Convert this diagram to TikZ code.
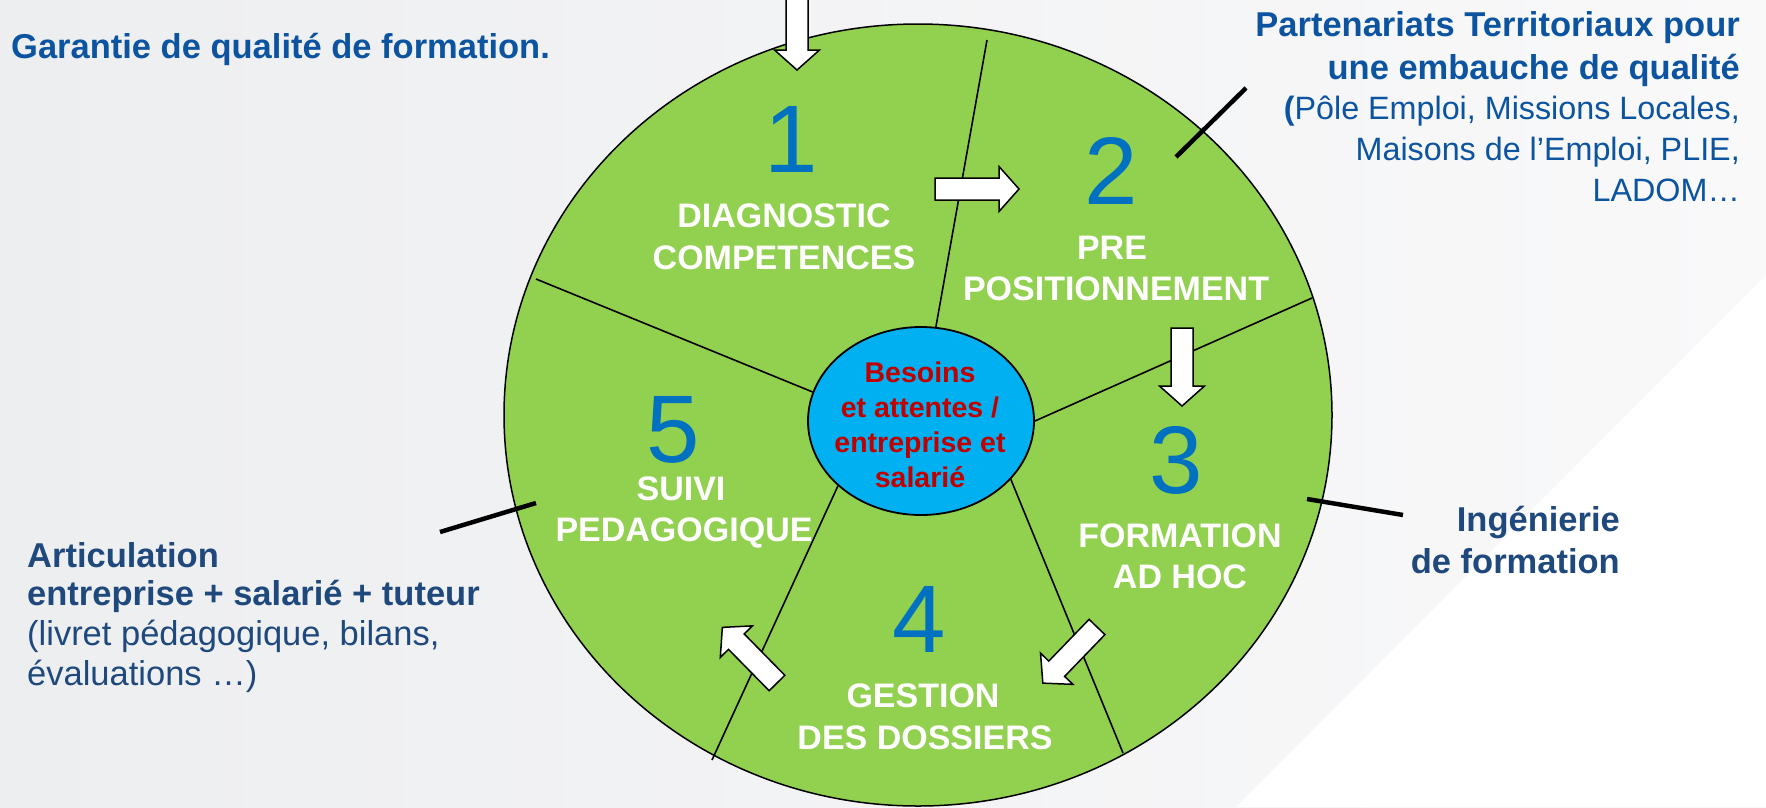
\documentclass[tikz,border=0pt]{standalone}
\usepackage{fontspec}
\setmainfont{Liberation Sans}
\usetikzlibrary{shapes.geometric,calc}
\definecolor{wheelgreen}{HTML}{92D050}
\definecolor{hubblue}{HTML}{00B0F0}
\definecolor{digitblue}{HTML}{0070C0}
\definecolor{hubred}{HTML}{C00000}
\definecolor{brightblue}{RGB}{12,84,160}
\definecolor{navy}{RGB}{31,73,125}
\definecolor{bgL}{RGB}{237,238,240}
\definecolor{bgR}{RGB}{249,249,250}
\newcommand\blockarrow[3]{%
  \begin{scope}[shift={#1}, rotate=#2]
    \draw[blockarr] (0,-11) -- ({#3-20},-11) -- ({#3-20},-22.5) -- (#3,0)
      -- ({#3-20},22.5) -- ({#3-20},11) -- (0,11) -- cycle;
  \end{scope}}
\begin{document}
\begin{tikzpicture}[x=1pt,y=-1pt,
  blockarr/.style={draw=black, fill=white, line width=1.5pt, line join=miter},
  divider/.style={draw=black, line width=1.6pt},
  tickline/.style={draw=black, line width=4.5pt},
  hdr/.style={font=\fontsize{34.5}{41}\selectfont\bfseries, inner sep=0pt},
  body/.style={font=\fontsize{34.5}{41}\selectfont, inner sep=0pt},
  bodysm/.style={font=\fontsize{32.3}{40}\selectfont, inner sep=0pt},
  wlabel/.style={font=\fontsize{34}{41}\selectfont\bfseries, text=white, inner sep=0pt, anchor=base},
  digit/.style={font=\fontsize{96}{96}\selectfont, text=digitblue, inner sep=0pt, text depth=0pt, anchor=base},
  hubtxt/.style={font=\fontsize{28.5}{35}\selectfont\bfseries, text=hubred, inner sep=0pt, anchor=base}]
\useasboundingbox (0,0) rectangle (1766,807);
\clip (0,0) rectangle (1766,807);
% background
\shade[left color=bgL, right color=bgR] (0,0) rectangle (1766,807);
\fill[white] (1236,807) -- (1766,275) -- (1766,807) -- cycle;
% wheel
\node[ellipse, draw=black, line width=1.5pt, fill=wheelgreen, minimum width=828pt, minimum height=782pt, inner sep=0pt] (wheel) at (918,415) {};
% outer ends of dividers
\coordinate (o1) at (987,40);
\coordinate (o2) at (1312,298);
\coordinate (o3) at (1123,753);
\coordinate (o4) at (712,760);
\coordinate (o5) at (536,279);
% hub
\node[ellipse, draw=black, line width=1.8pt, fill=hubblue, minimum width=226pt, minimum height=188pt, inner sep=0pt] (hub) at (921,421) {};
\draw[divider] (hub.81) -- (o1);
\draw[divider] (hub.0) -- (o2);
\draw[divider] (hub.-33.5) -- (o3);
\draw[divider] (hub.218.8) -- (o4);
\draw[divider] (hub.165.2) -- (o5);
% block arrows
\blockarrow{(797,-10)}{-90}{80}
\blockarrow{(935,189)}{0}{84}
\blockarrow{(1182,328)}{-90}{78}
\blockarrow{(1097,627)}{226}{78}
\blockarrow{(777,683)}{134.5}{78}
% tick lines
\coordinate (t2a) at (1176,157); \coordinate (t2b) at (1246,88);
\coordinate (t3a) at (1307,499); \coordinate (t3b) at (1403,515);
\coordinate (t5a) at (440,532);  \coordinate (t5b) at (536,503);
\draw[tickline] (t2a) -- (t2b);
\draw[tickline] (t3a) -- (t3b);
\draw[tickline] (t5a) -- (t5b);
% wheel labels
\node[digit] (n1) at (791,172) {1};
\node[wlabel] (l1a) at (784,227) {DIAGNOSTIC};
\node[wlabel] (l1b) at (784,269) {COMPETENCES};
\node[digit] (n2) at (1111,204) {2};
\node[wlabel] (l2a) at (1112,259) {PRE};
\node[wlabel] (l2b) at (1116,300) {POSITIONNEMENT};
\node[digit] (n3) at (1176,493) {3};
\node[wlabel] (l3a) at (1180,547) {FORMATION};
\node[wlabel] (l3b) at (1180,588) {AD HOC};
\node[digit] (n4) at (919,652) {4};
\node[wlabel] (l4a) at (923,707) {GESTION};
\node[wlabel] (l4b) at (925,749) {DES DOSSIERS};
\node[digit] (n5) at (673,462) {5};
\node[wlabel] (l5a) at (681,500) {SUIVI};
\node[wlabel] (l5b) at (684,541) {PEDAGOGIQUE};
% hub text
\node[hubtxt] (h1) at (920,382) {Besoins};
\node[hubtxt] (h2) at (920,417) {et attentes /};
\node[hubtxt] (h3) at (920,452) {entreprise et};
\node[hubtxt] (h4) at (920,487) {salarié};
% outside texts
\node[hdr, text=brightblue, anchor=base west] (gar) at (11,58) {Garantie de qualité de formation.};
\node[hdr, text=brightblue, anchor=base east] (p1) at (1740,36) {Partenariats Territoriaux pour};
\node[hdr, text=brightblue, anchor=base east] (p2) at (1740,79) {une embauche de qualité};
\node[bodysm, text=brightblue, anchor=base east] (p3) at (1740,119) {{\bfseries (}Pôle Emploi, Missions Locales,};
\node[bodysm, text=brightblue, anchor=base east] (p4) at (1740,160) {Maisons de l’Emploi, PLIE,};
\node[bodysm, text=brightblue, anchor=base east] (p5) at (1740,201) {LADOM…};
\node[hdr, text=navy, anchor=base east] (i1) at (1620,531) {Ingénierie};
\node[hdr, text=navy, anchor=base east] (i2) at (1620,573) {de formation};
\node[hdr, text=navy, anchor=base west] (a1) at (27,567) {Articulation};
\node[hdr, text=navy, anchor=base west] (a2) at (27,605) {entreprise + salarié + tuteur};
\node[body, text=navy, anchor=base west] (a3) at (27,645) {(livret pédagogique, bilans,};
\node[body, text=navy, anchor=base west] (a4) at (27,685) {évaluations …)};
\end{tikzpicture}
\end{document}
